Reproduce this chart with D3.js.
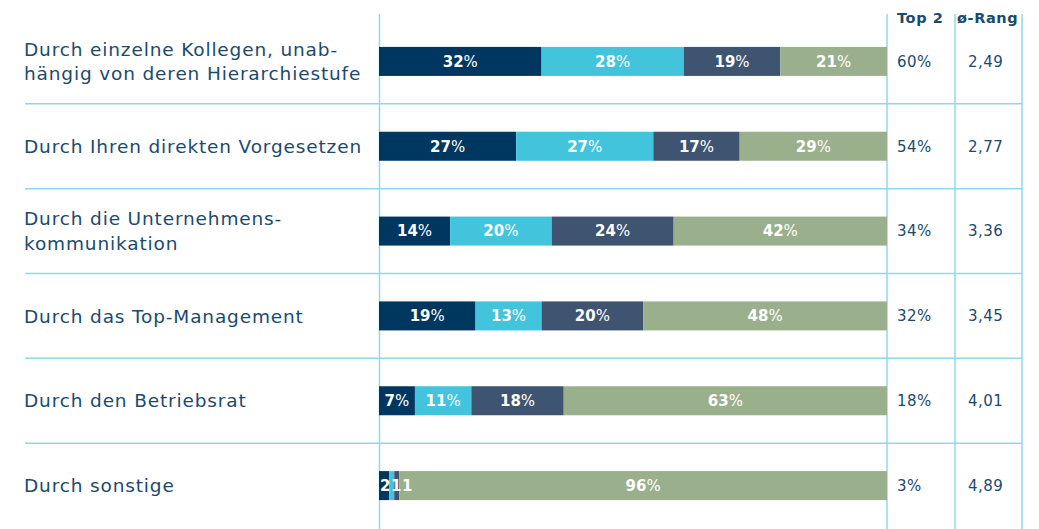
<!DOCTYPE html>
<html>
<head>
<meta charset="utf-8">
<script src="https://cdn.jsdelivr.net/npm/d3@7"></script>
<style>
  html, body { margin: 0; padding: 0; background: #ffffff; }
  svg { display: block; }
</style>
</head>
<body>
<svg id="chart" width="1039" height="529"></svg>
<script>
// Kategorien (Zeilen) – mehrzeilige Beschriftungen als Arrays
const categories = [
  ["Durch einzelne Kollegen, unab-", "hängig von deren Hierarchiestufe"],
  ["Durch Ihren direkten Vorgesetzen"],
  ["Durch die Unternehmens-", "kommunikation"],
  ["Durch das Top-Management"],
  ["Durch den Betriebsrat"],
  ["Durch sonstige"]
];

// Anteile je Rang (in %)
const rank1 = [32, 27, 14, 19, 7, 2];
const rank2 = [28, 27, 20, 13, 11, 1];
const rank3 = [19, 17, 24, 20, 18, 1];
const rank4 = [21, 29, 42, 48, 63, 96];

// Kennzahlen rechts
const top2 = ["60%", "54%", "34%", "32%", "18%", "3%"];
const avgRank = ["2,49", "2,77", "3,36", "3,45", "4,01", "4,89"];
const headers = ["Top 2", "ø-Rang"];

const seriesKeys = ["r1", "r2", "r3", "r4"];
const colors = ["#003760", "#42c4dc", "#3e5470", "#9ab08c"];
const textColor = "#1b4a6e";
const lineColor = "#8fd9ea";
const font = "Verdana, 'DejaVu Sans', sans-serif";

const rows = categories.map((c, i) => ({
  id: i, label: c,
  r1: rank1[i], r2: rank2[i], r3: rank3[i], r4: rank4[i],
  total: rank1[i] + rank2[i] + rank3[i] + rank4[i]
}));

// Normalisierung auf 100 % je Zeile
const stack = d3.stack().keys(seriesKeys)
  .value((d, k) => d[k] / d.total);
const stacked = stack(rows);

const svg = d3.select("#chart");

const y = d3.scaleBand().domain(rows.map(d => d.id)).range([19, 528]).padding(0);
const x = d3.scaleLinear().domain([0, 1]).range([379, 887]);
const color = d3.scaleOrdinal().domain(seriesKeys).range(colors);
const barH = 29;

const colTop2 = 887, colRang = 955, colEnd = 1022;

// Gitterlinien
const grid = svg.append("g");
rows.slice(0, -1).forEach(d => {
  const yy = y(d.id) + y.bandwidth();
  grid.append("line")
    .attr("x1", 25).attr("x2", colEnd)
    .attr("y1", yy).attr("y2", yy)
    .attr("stroke", lineColor).attr("stroke-width", 1.5);
});
[x(0) + 0.5, colTop2, colRang, colEnd].forEach(xx => {
  grid.append("line")
    .attr("x1", xx).attr("x2", xx)
    .attr("y1", 14).attr("y2", 529)
    .attr("stroke", lineColor).attr("stroke-width", 1.5);
});

// Balken
const layers = svg.append("g").selectAll("g")
  .data(stacked).join("g")
  .attr("fill", d => color(d.key));

layers.selectAll("rect")
  .data(d => d.map(s => ({ s, key: d.key })))
  .join("rect")
  .attr("x", d => x(d.s[0]))
  .attr("width", d => x(d.s[1]) - x(d.s[0]))
  .attr("y", d => y(d.s.data.id) + y.bandwidth() / 2 - barH / 2)
  .attr("height", barH);

// Wertbeschriftungen in den Balken
const labels = svg.append("g")
  .attr("font-family", font)
  .attr("font-size", 15)
  .attr("fill", "#ffffff");

// schmale Segmente: Zahlen ohne %, fortlaufend nebeneinander gesetzt
const cursor = {};
stacked.forEach(layer => {
  layer.forEach(s => {
    const v = s.data[layer.key];
    const id = s.data.id;
    const w = x(s[1]) - x(s[0]);
    const small = w < 24;
    const cy = y(id) + y.bandwidth() / 2;
    const t = labels.append("text").attr("y", cy).attr("dy", "0.36em");
    t.append("tspan").attr("font-weight", "bold").text(v);
    if (!small) {
      t.attr("text-anchor", "middle").attr("x", (x(s[0]) + x(s[1])) / 2);
      t.append("tspan").text("%");
    } else {
      const start = cursor[id] !== undefined ? cursor[id] : x(s[0]) + 1;
      t.attr("text-anchor", "start").attr("x", start);
      cursor[id] = start + t.node().getComputedTextLength() + 0.5;
    }
  });
});

// Zeilenbeschriftungen links
const catG = svg.append("g")
  .attr("font-family", font)
  .attr("font-size", 18.5)
  .attr("letter-spacing", 0.85)
  .attr("fill", textColor);

rows.forEach(d => {
  const n = d.label.length;
  const cy = y(d.id) + y.bandwidth() / 2;
  const lh = 24.5;
  const t = catG.append("text").attr("x", 24);
  d.label.forEach((line, j) => {
    t.append("tspan")
      .attr("x", 24)
      .attr("y", cy + (j - (n - 1) / 2) * lh)
      .attr("dy", "0.36em")
      .text(line);
  });
});

// Spaltenköpfe
const head = svg.append("g")
  .attr("font-family", font)
  .attr("font-size", 14.5)
  .attr("font-weight", "bold")
  .attr("letter-spacing", 0.6)
  .attr("fill", textColor);
head.append("text").attr("x", colTop2 + 10).attr("y", 23).text(headers[0]);
head.append("text").attr("x", colRang + 2).attr("y", 23).text(headers[1]);

// Kennzahlen
const vals = svg.append("g")
  .attr("font-family", font)
  .attr("font-size", 15)
  .attr("letter-spacing", 0.5)
  .attr("fill", textColor);
rows.forEach((d, i) => {
  const cy = y(d.id) + y.bandwidth() / 2;
  vals.append("text").attr("x", colTop2 + 10).attr("y", cy).attr("dy", "0.36em").text(top2[i]);
  vals.append("text").attr("x", colRang + 13).attr("y", cy).attr("dy", "0.36em").text(avgRank[i]);
});
</script>
</body>
</html>
